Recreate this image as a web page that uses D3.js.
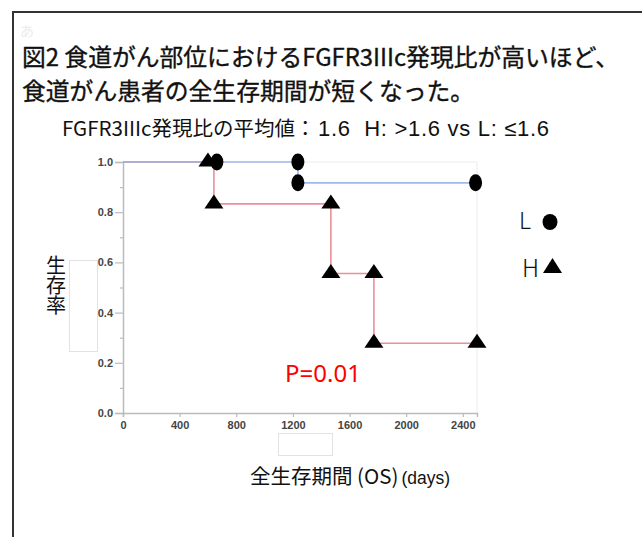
<!DOCTYPE html>
<html>
<head>
<meta charset="utf-8">
<script src="https://cdn.jsdelivr.net/npm/d3@7"></script>
<style>
html,body{margin:0;padding:0;background:#fff;}
svg{display:block;}
</style>
</head>
<body>
<script>
// ---- data ----
const titleLines = ["図2 食道がん部位におけるFGFR3IIIc発現比が高いほど、", "食道がん患者の全生存期間が短くなった。"];
const subtitleJp = "FGFR3IIIc発現比の平均値：";
const subtitleEn = "1.6  H: >1.6 vs L: ≤1.6";
const yLabel = "生存率";
const xLabelMain = "全生存期間 (OS)";
const xLabelUnit = "(days)";
const pText = "P=0.01";

const xTicks = [0, 400, 800, 1200, 1600, 2000, 2400];
const yTicks = [0.0, 0.2, 0.4, 0.6, 0.8, 1.0];
const yMinorTicks = [0.1, 0.3, 0.5, 0.7, 0.9];

// L group (low expression): step curve and markers
const lLineTime = [0, 1235, 2490];
const lLineSurv = [1.0, 0.917, 0.917];
const lMarkTime = [663, 1235, 1235, 2490];
const lMarkSurv = [1.0, 1.0, 0.917, 0.917];

// H group (high expression)
const hLineTime = [0, 642, 1468, 1772, 2500];
const hLineSurv = [1.0, 0.833, 0.556, 0.278, 0.278];
const hMarkTime = [600, 642, 1468, 1468, 1772, 1772, 2500];
const hMarkSurv = [1.0, 0.833, 0.833, 0.556, 0.556, 0.278, 0.278];

// ---- drawing ----
const W = 642, H = 537;
const svg = d3.select("body").append("svg").attr("width", W).attr("height", H);
const jp = "'Noto Sans CJK JP', 'Noto Sans', sans-serif";
const en = "'Liberation Sans', Arial, sans-serif";

// outer frame
svg.append("path").attr("d", `M13,${H} L13,12 L${W},12`)
  .attr("fill", "none").attr("stroke", "#333").attr("stroke-width", 2);

// faint icon
svg.append("text").attr("x", 20).attr("y", 36).attr("font-family", jp).attr("font-size", 14)
  .attr("fill", "#ececec").text("あ");

// title (two lines)
svg.selectAll(".title").data(titleLines).enter().append("text")
  .attr("x", 22).attr("y", (d, i) => 66 + i * 34)
  .attr("font-family", jp).attr("font-size", 23.8)
  .attr("fill", "#111").attr("stroke", "#111").attr("stroke-width", 0.35)
  .text(d => d);

const st = svg.append("text").attr("y", 136).style("white-space", "pre").attr("fill", "#111");
st.append("tspan").attr("x", 62).attr("font-family", jp).attr("font-size", 20.5).text(subtitleJp);
st.append("tspan").attr("x", 318).attr("font-family", en).attr("font-size", 22)
  .attr("textLength", 231).attr("lengthAdjust", "spacing").text(subtitleEn);

const x = d3.scaleLinear().domain([0, 2500]).range([123, 477]);
const y = d3.scaleLinear().domain([0, 1]).range([413, 162]);

// plot frame (top/right faint)
svg.append("path").attr("d", `M${x(0)},${y(1)} L${x(2500)},${y(1)} L${x(2500)},${y(0)}`)
  .attr("fill", "none").attr("stroke", "#ececec").attr("stroke-width", 1);

// y axis
const yAxis = d3.axisLeft(y).tickValues(yTicks).tickFormat(d3.format(".1f")).tickSize(8).tickPadding(2);
svg.append("g").attr("transform", `translate(${x(0)},0)`).call(yAxis);
svg.append("g").attr("transform", `translate(${x(0)},0)`)
  .call(d3.axisLeft(y).tickValues(yMinorTicks).tickFormat("").tickSize(3))
  .select(".domain").remove();

// x axis
const xAxis = d3.axisBottom(x).tickValues(xTicks).tickFormat(d3.format("d")).tickSize(4).tickPadding(4);
svg.append("g").attr("transform", `translate(0,${y(0)})`).call(xAxis);

svg.selectAll(".domain").attr("stroke", "#bbb").attr("stroke-width", 1.5);
svg.selectAll(".tick line").attr("stroke", "#bbb").attr("stroke-width", 1.2);
svg.selectAll(".tick text").attr("font-family", en)
  .attr("font-size", 11).attr("font-weight", "bold").attr("fill", "#444");

// step lines
const stepLine = d3.line().x(d => x(d[0])).y(d => y(d[1])).curve(d3.curveStepAfter);
const hPts = d3.zip(hLineTime, hLineSurv);
const lPts = d3.zip(lLineTime, lLineSurv);
svg.append("path").attr("d", stepLine(hPts)).attr("fill", "none")
  .attr("stroke", "#ec8f98").attr("stroke-width", 1.6);
svg.append("path").attr("d", stepLine(lPts)).attr("fill", "none")
  .attr("stroke", "#8eaee6").attr("stroke-width", 1.6).attr("stroke-opacity", 0.85);

// markers
const tri = "M0,-9.5 L9.5,4.5 L-9.5,4.5 Z";
svg.selectAll(".hm").data(d3.zip(hMarkTime, hMarkSurv)).enter().append("path")
  .attr("transform", d => `translate(${x(d[0])},${y(d[1])})`)
  .attr("d", tri).attr("fill", "#000");
svg.selectAll(".lm").data(d3.zip(lMarkTime, lMarkSurv)).enter().append("ellipse")
  .attr("cx", d => x(d[0])).attr("cy", d => y(d[1]))
  .attr("rx", 6.5).attr("ry", 8.5).attr("fill", "#000");

// legend
svg.append("text").attr("x", 519).attr("y", 229).attr("font-family", jp)
  .attr("font-size", 23).attr("font-weight", 300).attr("fill", "#111").text("L");
svg.append("ellipse").attr("cx", 550).attr("cy", 222).attr("rx", 7.5).attr("ry", 8).attr("fill", "#000");
svg.append("text").attr("x", 522).attr("y", 277).attr("font-family", jp)
  .attr("font-size", 24).attr("font-weight", 300).attr("fill", "#111").text("H");
svg.append("path").attr("transform", "translate(552.5,268)")
  .attr("d", "M0,-10 L9.5,5 L-9.5,5 Z").attr("fill", "#000");

// y label (vertical, single text)
svg.append("text").attr("x", 56).attr("y", 255)
  .style("writing-mode", "vertical-rl")
  .attr("font-family", jp).attr("font-size", 20).attr("fill", "#111").text(yLabel);

// faint artifact boxes
svg.append("rect").attr("x", 69.5).attr("y", 260.5).attr("width", 28).attr("height", 91)
  .attr("fill", "none").attr("stroke", "#e2e2e2");
svg.append("rect").attr("x", 278.5).attr("y", 433.5).attr("width", 54).attr("height", 22)
  .attr("fill", "none").attr("stroke", "#e2e2e2");

// P value
svg.append("text").attr("x", 285).attr("y", 382).attr("font-family", "'Noto Sans', sans-serif")
  .attr("font-size", 24).attr("fill", "#ff0000").text(pText);

// x label
const xl = svg.append("text").attr("x", 250).attr("y", 484).attr("fill", "#111");
xl.append("tspan").attr("font-family", jp).attr("font-size", 20.5).text(xLabelMain);
xl.append("tspan").attr("font-family", en).attr("font-size", 17.5).attr("dx", 3).text(xLabelUnit);
</script>
</body>
</html>
